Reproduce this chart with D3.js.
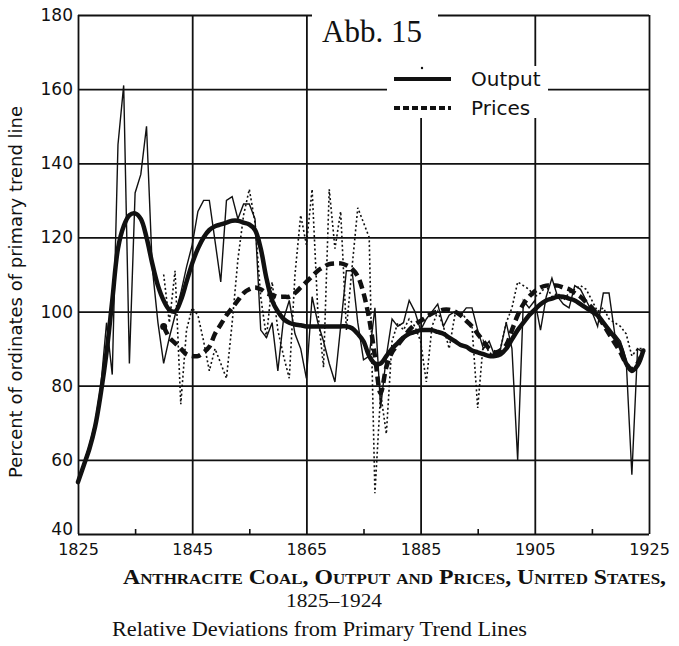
<!DOCTYPE html>
<html>
<head>
<meta charset="utf-8">
<script src="https://cdn.jsdelivr.net/npm/d3@7"></script>
<style>
  body { margin: 0; background: #fff; }
  svg { display: block; }
</style>
</head>
<body>
<svg width="679" height="646"></svg>
<script>
// yearly values (percent of primary trend ordinates)
var firstYear = 1825;
var outputValues = [54, 59, 64, 70, 80, 97, 83, 145, 161, 86,
  132, 137, 150, 112, 97, 86, 93, 99, 105, 112,
  118, 127, 130, 130, 119, 108, 130, 131, 125, 129,
  129, 125, 95, 93, 97, 84, 98, 103, 94, 90,
  82, 104, 97, 92, 86, 81, 96, 111, 111, 97,
  87, 88, 101, 74, 88, 98, 96, 97, 103, 100,
  95, 98, 100, 102, 96, 99, 100, 99, 101, 101,
  95, 90, 92, 88, 90, 97, 90, 60, 103, 101,
  103, 95, 104, 109, 104, 102, 101, 107, 106, 103,
  100, 96, 105, 105, 94, 92, 87, 56, 90, 89];

var priceStart = 1840;
var priceValues = [110, 97, 111, 75, 95, 101, 99, 92, 84, 90,
  86, 82, 97, 114, 126, 133, 124, 104, 93, 108,
  95, 88, 82, 110, 126, 118, 133, 100, 85, 133,
  117, 127, 95, 112, 128, 124, 120, 51, 78, 67,
  92, 97, 95, 98, 96, 92, 81, 96, 100, 96,
  90, 99, 100, 98, 96, 74, 92, 89, 88, 90,
  97, 101, 108, 107, 106, 104, 105, 107, 104, 105,
  103, 105, 106, 107, 106, 103, 100, 101, 98, 97,
  96, 94, 88, 90, 90];

// smoothed primary-trend deviations (thick lines)
var outputTrend = [54, 58.5, 63, 69, 78, 89, 103, 117, 123, 126,
  126.5, 125, 120, 113, 107, 103, 100.5, 100, 103, 108,
  113, 117, 120, 122, 123, 123.5, 124, 124.5, 124.5, 124,
  123.5, 122, 117, 109, 103, 100, 98, 97, 96.5, 96.3,
  96, 96, 96, 96, 96, 96, 96, 96, 95.5, 94,
  92, 88, 86, 86, 88, 90, 91.5, 93, 94, 94.5,
  95, 95, 95, 94.5, 94, 93, 92, 91, 90.5, 89.5,
  89, 88.5, 88, 88, 88.5, 90, 92.5, 95, 97, 99,
  100.5, 102, 103, 103.5, 104, 104, 103.5, 103, 102, 101,
  100, 99, 97, 95, 93, 90.5, 86, 84, 85.5, 89.5];

var priceTrend = [96, 93, 91.5, 90, 88.5, 88, 88, 89, 90.5, 94,
  96.5, 99, 101, 103, 105, 106, 106.5, 106, 105, 104.5,
  104, 104, 104, 105, 106.5, 108, 109.5, 111, 112, 112.8,
  113, 113, 112.5, 111.5, 109.5, 105, 98, 88, 78, 85,
  89, 91, 93, 95, 96.5, 97.5, 98.5, 99.5, 100, 100.5,
  100.5, 100, 99, 97.5, 96, 94, 92, 90, 89, 89.5,
  91, 95, 99, 102, 104, 105.5, 106.5, 107, 107, 107,
  106.5, 106, 105, 104, 102.5, 101, 99, 96.5, 94, 91.5,
  89, 86, 84.5, 86, 89.5];

var xTicks = [1825, 1845, 1865, 1885, 1905, 1925];
var xMinorTicks = [1835, 1855, 1875, 1895, 1915];
var yTicks = [40, 60, 80, 100, 120, 140, 160, 180];

var margin = {top: 15, left: 78, right: 30, bottom: 112};
var width = 679, height = 646;
var svg = d3.select('svg');

var x = d3.scaleLinear()
  .domain([1825, 1925])
  .range([margin.left, width - margin.right]);
var y = d3.scaleLinear()
  .domain([40, 180])
  .range([height - margin.bottom, margin.top]);

var plotW = x.range()[1] - x.range()[0];
var plotH = y.range()[0] - y.range()[1];

// grid lines
var hGrid = svg.append('g')
  .attr('transform', `translate(${margin.left},0)`)
  .call(d3.axisLeft(y).tickValues(yTicks).tickSize(-plotW).tickFormat(''));
var vGrid = svg.append('g')
  .attr('transform', `translate(0,${margin.top})`)
  .call(d3.axisBottom(x).tickValues(xTicks).tickSize(plotH).tickFormat(''));
[hGrid, vGrid].forEach(g => {
  g.select('.domain').remove();
  g.selectAll('line').attr('stroke', '#111').attr('stroke-width', 1.8);
});

// minor ticks on the year axis
var minor = svg.append('g')
  .attr('transform', `translate(0,${y(40)})`)
  .call(d3.axisBottom(x).tickValues(xMinorTicks).tickSize(-5).tickFormat(''));
minor.select('.domain').remove();
minor.selectAll('line').attr('stroke', '#111').attr('stroke-width', 1.6);

// tick labels
var yLab = svg.append('g')
  .attr('transform', `translate(${margin.left},0)`)
  .call(d3.axisLeft(y).tickValues(yTicks).tickSize(0).tickPadding(5));
yLab.select('.domain').remove();
yLab.selectAll('text')
  .attr('font-family', 'DejaVu Sans')
  .attr('font-size', 17)
  .attr('fill', '#111');
yLab.selectAll('.tick').filter(d => d === 40).select('text').attr('dy', '0.0em');

var xLab = svg.append('g')
  .attr('transform', `translate(0,${y(40)})`)
  .call(d3.axisBottom(x).tickValues(xTicks).tickSize(0).tickPadding(10).tickFormat(d3.format('d')));
xLab.select('.domain').remove();
xLab.selectAll('text')
  .attr('font-family', 'DejaVu Sans')
  .attr('font-size', 16)
  .attr('fill', '#111');

// legend area blanks out the grid
svg.append('rect').attr('x', 312).attr('y', 0).attr('width', 126).attr('height', 66).attr('fill', '#fff');
svg.append('rect').attr('x', 387).attr('y', 66).attr('width', 161).attr('height', 52).attr('fill', '#fff');
svg.append('circle').attr('cx', 422).attr('cy', 68).attr('r', 1.2).attr('fill', '#111');

svg.append('text')
  .attr('x', 322).attr('y', 42)
  .attr('font-family', 'Liberation Serif')
  .attr('font-size', 31)
  .attr('fill', '#111')
  .text('Abb. 15');

var legend = [
  {label: 'Output', y: 79, dash: null},
  {label: 'Prices', y: 108, dash: '6,3'}
];
legend.forEach(l => {
  svg.append('line')
    .attr('x1', 394).attr('x2', 451)
    .attr('y1', l.y).attr('y2', l.y)
    .attr('stroke', '#111').attr('stroke-width', 4)
    .attr('stroke-dasharray', l.dash);
  svg.append('text')
    .attr('x', 471).attr('y', l.y + 7)
    .attr('font-family', 'DejaVu Sans')
    .attr('font-size', 20)
    .attr('fill', '#111')
    .text(l.label);
});

// series
var outThin = outputValues.map((v, i) => ({year: firstYear + i, value: v}));
var outSmooth = outputTrend.map((v, i) => ({year: firstYear + i, value: v}));
var priceThin = priceValues.map((v, i) => ({year: priceStart + i, value: v}));
var priceSmooth = priceTrend.map((v, i) => ({year: priceStart + i, value: v}));

var line = d3.line()
  .x(d => x(d.year))
  .y(d => y(d.value));
var smooth = d3.line()
  .x(d => x(d.year))
  .y(d => y(d.value))
  .curve(d3.curveCatmullRom);

var plot = svg.append('g').attr('fill', 'none').attr('stroke', '#111');

plot.append('path')
  .attr('d', line(priceThin))
  .attr('stroke-width', 1.6)
  .attr('stroke-dasharray', '2,2.5');

plot.append('path')
  .attr('d', line(outThin))
  .attr('stroke-width', 1.4);

plot.append('path')
  .attr('d', smooth(priceSmooth))
  .attr('stroke-width', 4.5)
  .attr('stroke-dasharray', '9,5');

plot.append('path')
  .attr('d', smooth(outSmooth))
  .attr('stroke-width', 4.5)
  .attr('stroke-linecap', 'round');

svg.append('circle')
  .attr('cx', x(priceStart)).attr('cy', y(priceTrend[0]))
  .attr('r', 3.5).attr('fill', '#111');

// axis title
svg.append('text')
  .attr('transform', 'translate(22,292) rotate(-90)')
  .attr('text-anchor', 'middle')
  .attr('font-family', 'DejaVu Sans')
  .attr('font-size', 18)
  .attr('fill', '#111')
  .text('Percent of ordinates of primary trend line');

// caption
var caption = svg.append('g')
  .attr('font-family', 'Liberation Serif')
  .attr('fill', '#111');
caption.append('text')
  .attr('x', 123).attr('y', 584)
  .attr('font-size', 21)
  .attr('font-weight', 'bold')
  .attr('font-variant', 'small-caps')
  .attr('textLength', 543)
  .attr('lengthAdjust', 'spacingAndGlyphs')
  .text('Anthracite Coal, Output and Prices, United States,');
caption.append('text')
  .attr('x', 286).attr('y', 607)
  .attr('font-size', 19)
  .attr('textLength', 96)
  .attr('lengthAdjust', 'spacingAndGlyphs')
  .text('1825–1924');
caption.append('text')
  .attr('x', 112).attr('y', 636)
  .attr('font-size', 20)
  .attr('textLength', 415)
  .attr('lengthAdjust', 'spacingAndGlyphs')
  .text('Relative Deviations from Primary Trend Lines');
</script>
</body>
</html>
